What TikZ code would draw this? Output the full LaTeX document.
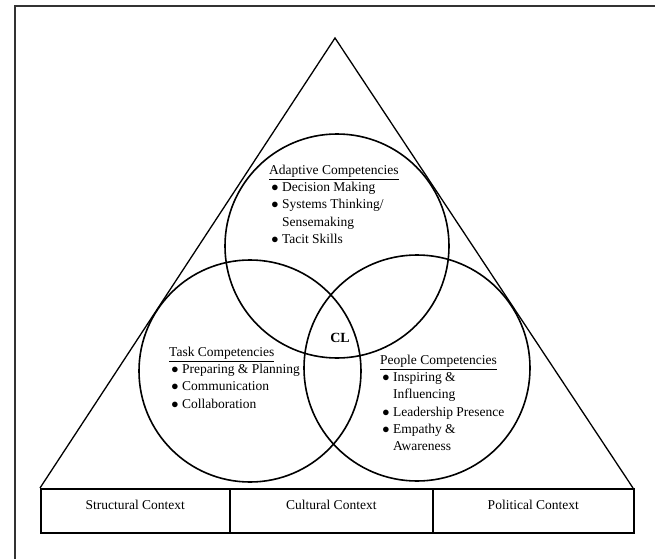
\documentclass[tikz,border=0pt]{standalone}
\usepackage{fontspec}
\setmainfont{Liberation Serif}
\begin{document}
\begin{tikzpicture}[x=1pt,y=-1pt]

\tikzset{line/.style={draw,line width=1.6pt}}
\tikzset{circ/.style={line,circle,inner sep=0pt}}
\tikzset{cell/.style={line,rectangle,inner sep=0pt,minimum height=44pt}}
\tikzset{txt/.style={anchor=north west,inner sep=0pt,align=left,font=\fontsize{13.5}{17.2}\selectfont}}
\newcommand{\itm}{$\bullet$~}

\useasboundingbox (0,0) rectangle (655,559);

% frame
\coordinate (f1) at (15,559);
\coordinate (f2) at (15,6);
\coordinate (f3) at (655,6);
\draw[line width=1.4pt,black!80] (f1) -- (f2) -- (f3);

% context triangle
\coordinate (apex) at (335,38);
\coordinate (bl) at (40,488);
\coordinate (br) at (633,488);
\draw[line width=1.3pt] (bl) -- (apex) -- (br);

% competency circles
\node[circ,minimum size=224pt] (adapt) at (337,246) {};
\node[circ,minimum size=222pt] (task) at (250,371) {};
\node[circ,minimum size=226pt] (people) at (417,368) {};

\node[font=\bfseries\fontsize{14}{16}\selectfont] (cl) at (340,338) {CL};

\node[txt] (adapttxt) at (269,165) {\underline{Adaptive Competencies}\\
\,\itm Decision Making\\
\,\itm Systems Thinking/\\
\,\phantom{\itm}Sensemaking\\
\,\itm Tacit Skills};

\node[txt] (tasktxt) at (169,347) {\underline{Task Competencies}\\
\,\itm Preparing \& Planning\\
\,\itm Communication\\
\,\itm Collaboration};

\node[txt] (peopletxt) at (380,355) {\underline{People Competencies}\\
\,\itm Inspiring \&\\
\,\phantom{\itm}Influencing\\
\,\itm Leadership Presence\\
\,\itm Empathy \&\\
\,\phantom{\itm}Awareness};

% context boxes
\node[cell,fill=white,minimum width=189pt,anchor=north west] (struct) at (40,488) {};
\node[cell,fill=white,minimum width=203pt,anchor=north west] (cult) at (229,488) {};
\node[cell,fill=white,minimum width=201pt,anchor=north west] (polit) at (432,488) {};

\node[txt,anchor=center] (structtxt) at ([yshift=6pt]struct.center) {Structural Context};
\node[txt,anchor=center] (culttxt) at ([yshift=6pt]cult.center) {Cultural Context};
\node[txt,anchor=center] (polittxt) at ([yshift=6pt]polit.center) {Political Context};

\end{tikzpicture}
\end{document}
